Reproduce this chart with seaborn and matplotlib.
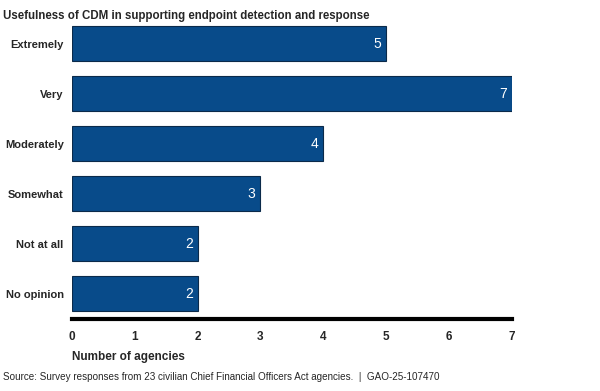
import matplotlib
matplotlib.use('Agg')
import matplotlib.pyplot as plt
import seaborn as sns
import pandas as pd

categories = ['Extremely', 'Very', 'Moderately', 'Somewhat', 'Not at all', 'No opinion']
agencies = [5, 7, 4, 3, 2, 2]
x_ticks = [0, 1, 2, 3, 4, 5, 6, 7]

title = 'Usefulness of CDM in supporting endpoint detection and response'
x_label = 'Number of agencies'
source = 'Source: Survey responses from 23 civilian Chief Financial Officers Act agencies.  |  GAO-25-107470'

df = pd.DataFrame({'usefulness': categories, 'agencies': agencies})

sns.set_style('white')
plt.rcParams['font.family'] = ['Liberation Sans', 'DejaVu Sans']

fig = plt.figure(figsize=(6, 3.91), dpi=100)
ax = fig.add_axes([0.12, 0.185, 0.733, 0.761])

sns.barplot(data=df, x='agencies', y='usefulness', color='#084B8A',
            saturation=1, width=0.7, edgecolor='#0B2A4A', linewidth=0.8, ax=ax)

# value labels inside bar ends
for i, v in enumerate(agencies):
    ax.text(v - 0.08, i, str(v), ha='right', va='center', color='white', fontsize=10)

ax.set_xlim(0, 7)
ax.set_ylim(5.5, -0.45)
ax.set_xticks(x_ticks)
ax.set_xticklabels([str(t) for t in x_ticks], fontweight='bold', fontsize=8.5)
ax.set_yticks(range(len(categories)))
ax.set_yticklabels(categories, fontweight='bold', fontsize=8)
ax.tick_params(axis='both', length=0)
ax.tick_params(axis='x', pad=9)
ax.tick_params(axis='y', pad=6)

for s in ['top', 'right', 'left']:
    ax.spines[s].set_visible(False)
ax.spines['bottom'].set_linewidth(3)
ax.spines['bottom'].set_color('black')

ax.set_ylabel('')
ax.set_xlabel(x_label, fontweight='bold', fontsize=8.5, loc='left', labelpad=6)

fig.text(0.005, 0.975, title, fontweight='bold', fontsize=8.3, ha='left', va='top')
fig.text(0.005, 0.035, source, fontsize=7.15, ha='left', va='center')

fig.savefig('out.png', dpi=100)
